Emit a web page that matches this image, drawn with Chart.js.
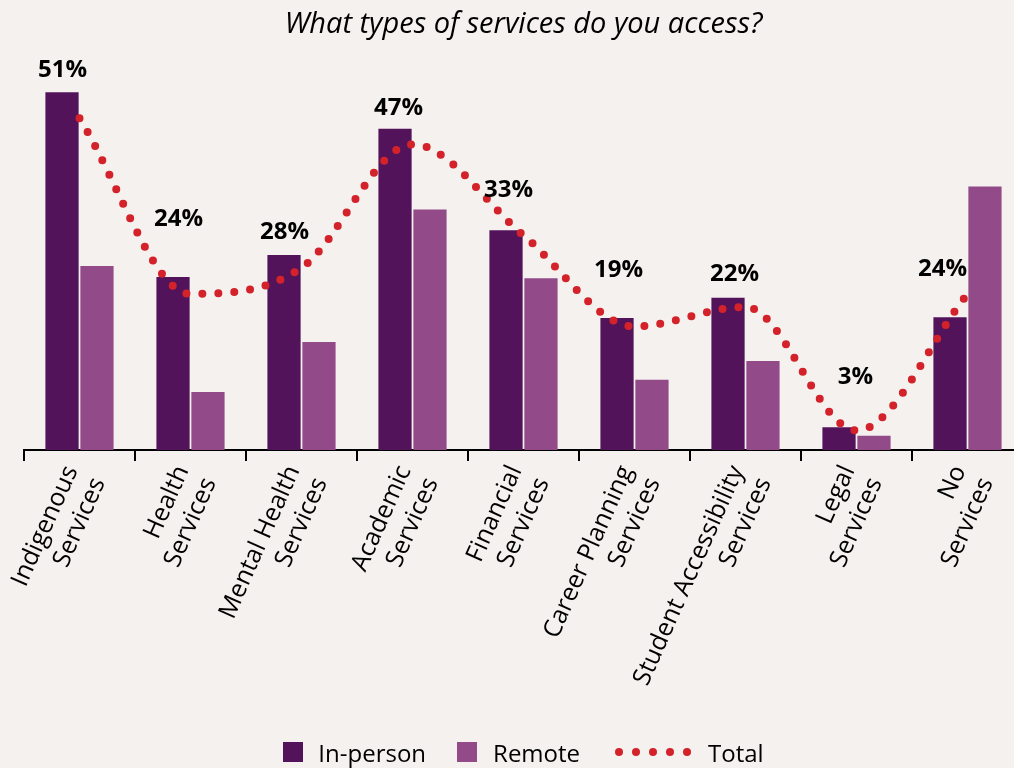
<!DOCTYPE html>
<html>
<head>
<meta charset="utf-8">
<script src="https://cdn.jsdelivr.net/npm/chart.js@4.4.1/dist/chart.umd.min.js"></script>
<style>
  html, body { margin: 0; padding: 0; background: #f5f1ee; overflow: hidden; }
  #wrap { position: relative; width: 1014px; height: 768px; overflow: hidden; }
  #servicesChart { position: absolute; left: 0; top: 0; }
  #legend {
    position: absolute; left: 0; top: 738px; width: 1047px; height: 28px;
    display: flex; justify-content: center; align-items: center;
    font-family: "Open Sans", sans-serif; font-size: 24px; color: #000;
  }
  .swatch { width: 20px; height: 20px; display: inline-block; }
  .item { display: flex; align-items: center; }
  .dots { display: flex; align-items: center; }
  .dots span { width: 8px; height: 8px; border-radius: 50%; background: #d3222a; margin-right: 9px; }
</style>
</head>
<body>
<div id="wrap">
  <canvas id="servicesChart" width="1047" height="768"></canvas>
  <div id="legend">
    <div class="item"><span class="swatch" style="background:#53135a"></span><span style="margin-left:15px">In-person</span></div>
    <div class="item" style="margin-left:31px"><span class="swatch" style="background:#934a89"></span><span style="margin-left:16px">Remote</span></div>
    <div class="item" style="margin-left:35px"><span class="dots"><span></span><span></span><span></span><span></span><span></span></span><span style="margin-left:8px">Total</span></div>
  </div>
</div>

<script>
// Categories and survey values (percent)
const categories = [
  ['Indigenous', 'Services'],
  ['Health', 'Services'],
  ['Mental Health', 'Services'],
  ['Academic', 'Services'],
  ['Financial', 'Services'],
  ['Career Planning', 'Services'],
  ['Student Accessibility', 'Services'],
  ['Legal', 'Services'],
  ['No', 'Services']
];
const inPerson = [55, 26.6, 30, 49.4, 33.8, 20.3, 23.4, 3.5, 20.4];
const remote = [28.3, 8.9, 16.6, 37, 26.4, 10.8, 13.7, 2.2, 40.5];
const total = [51, 24, 28, 47, 33, 19, 22, 3, 24];

// where each total label sits relative to its point
const labelDx = [-17, -12, -17, -14, -15, -16, -11, -1, -25];
const labelDy = [-48, -75, -36, -36, -45, -56, -33, -53, -25];

const DARK = '#53135a';
const LIGHT = '#934a89';
const RED = '#d3222a';

// writes "NN%" above the total line
const totalLabels = {
  id: 'totalLabels',
  afterDatasetsDraw(chart) {
    const meta = chart.getDatasetMeta(2);
    const ctx = chart.ctx;
    ctx.save();
    ctx.font = 'bold 24px "Open Sans"';
    ctx.fillStyle = '#000';
    ctx.textAlign = 'center';
    ctx.textBaseline = 'middle';
    meta.data.forEach((pt, i) => {
      ctx.fillText(total[i] + '%', pt.x + labelDx[i], pt.y + labelDy[i]);
    });
    ctx.restore();
  }
};

function drawChart() {
  new Chart(document.getElementById('servicesChart'), {
    type: 'bar',
    data: {
      labels: categories,
      datasets: [
        {
          label: 'In-person',
          data: inPerson,
          backgroundColor: DARK,
          categoryPercentage: 0.63,
          barPercentage: 0.95,
          order: 1
        },
        {
          label: 'Remote',
          data: remote,
          backgroundColor: LIGHT,
          categoryPercentage: 0.63,
          barPercentage: 0.95,
          order: 1
        },
        {
          type: 'line',
          label: 'Total',
          data: total,
          borderColor: RED,
          borderWidth: 8,
          borderCapStyle: 'round',
          borderDash: [0, 16],
          cubicInterpolationMode: 'monotone',
          pointRadius: 0,
          fill: false,
          order: 0
        }
      ]
    },
    options: {
      responsive: false,
      animation: false,
      layout: { padding: { left: 24, right: 24, top: 0, bottom: 0 } },
      plugins: {
        legend: { display: false },
        tooltip: { enabled: false },
        title: {
          display: true,
          text: 'What types of services do you access?',
          color: '#000',
          font: { family: 'Open Sans', size: 29, style: 'italic', weight: 'normal' },
          padding: { top: 7, bottom: 18 }
        }
      },
      scales: {
        x: {
          offset: true,
          grid: {
            offset: true,
            drawOnChartArea: false,
            drawTicks: true,
            tickLength: 11,
            color: '#000',
            lineWidth: 2
          },
          border: { color: '#000', width: 2 },
          ticks: {
            color: '#000',
            font: { family: 'Open Sans', size: 25 },
            minRotation: 66,
            maxRotation: 66,
            autoSkip: false,
            labelOffset: -8,
            padding: 0
          },
          afterFit(scale) { scale.height = 318; }
        },
        y: {
          display: false,
          min: 0,
          max: 60
        }
      }
    },
    plugins: [totalLabels]
  });
}

Promise.all([
  document.fonts.load('25px "Open Sans"'),
  document.fonts.load('italic 29px "Open Sans"'),
  document.fonts.load('bold 24px "Open Sans"')
]).then(drawChart, drawChart);
</script>
</body>
</html>
